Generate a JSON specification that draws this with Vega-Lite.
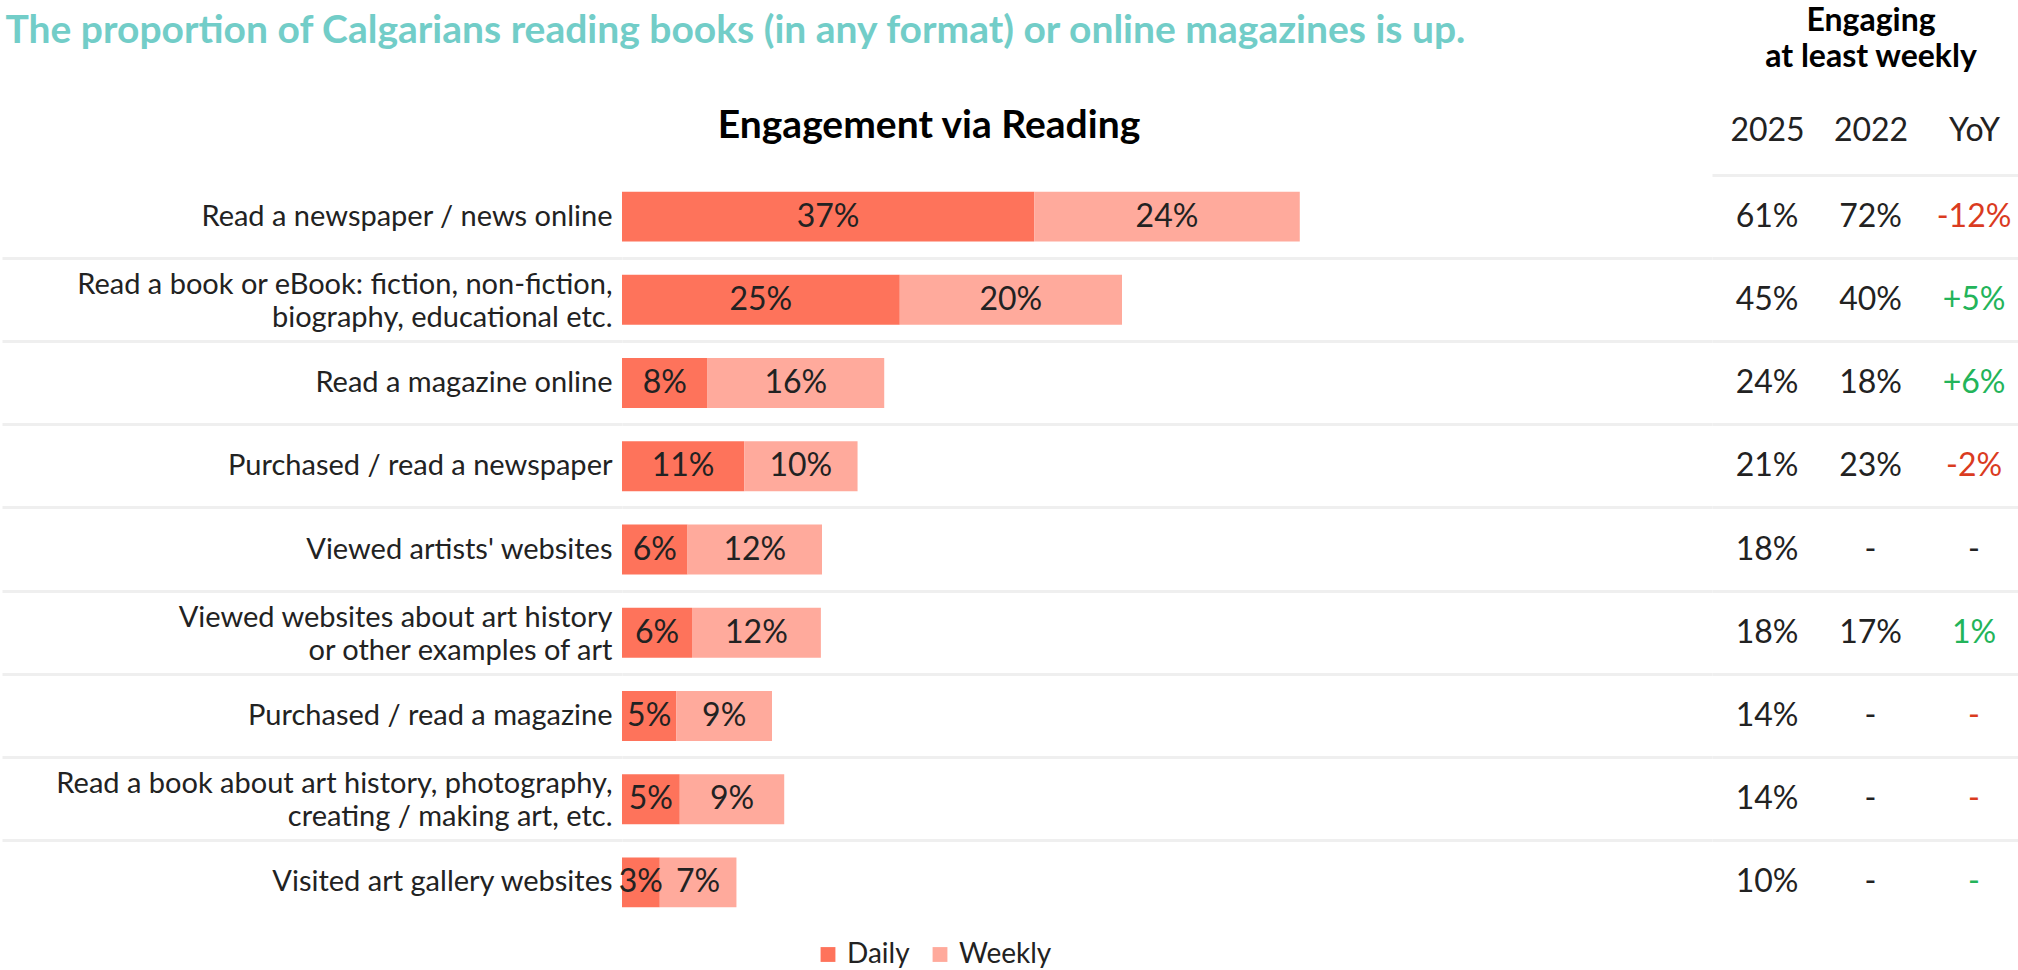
{
  "$schema": "https://vega.github.io/schema/vega-lite/v6.json",
  "padding": {"top": 5, "left": 0, "right": 0, "bottom": 0},
  "background": "white",
  "config": {
    "font": "Lato",
    "view": {"stroke": null},
    "title": {"font": "Lato"},
    "axis": {"labelFont": "Lato", "titleFont": "Lato"},
    "legend": {"labelFont": "Lato"}
  },
  "title": {
    "text": "The proportion of Calgarians reading books (in any format) or online magazines is up.",
    "anchor": "start",
    "fontSize": 39,
    "fontWeight": "bold",
    "color": "#72CDC8",
    "offset": -46,
    "dx": 5
  },
  "datasets": {
    "bars": [
      {"activity": "Read a newspaper / news online", "frequency": "Daily", "share": 0.371},
      {"activity": "Read a newspaper / news online", "frequency": "Weekly", "share": 0.239},
      {"activity": "Read a book or eBook: fiction, non-fiction,\nbiography, educational etc.", "frequency": "Daily", "share": 0.250},
      {"activity": "Read a book or eBook: fiction, non-fiction,\nbiography, educational etc.", "frequency": "Weekly", "share": 0.200},
      {"activity": "Read a magazine online", "frequency": "Daily", "share": 0.077},
      {"activity": "Read a magazine online", "frequency": "Weekly", "share": 0.159},
      {"activity": "Purchased / read a newspaper", "frequency": "Daily", "share": 0.110},
      {"activity": "Purchased / read a newspaper", "frequency": "Weekly", "share": 0.102},
      {"activity": "Viewed artists' websites", "frequency": "Daily", "share": 0.059},
      {"activity": "Viewed artists' websites", "frequency": "Weekly", "share": 0.121},
      {"activity": "Viewed websites about art history\nor other examples of art", "frequency": "Daily", "share": 0.063},
      {"activity": "Viewed websites about art history\nor other examples of art", "frequency": "Weekly", "share": 0.116},
      {"activity": "Purchased / read a magazine", "frequency": "Daily", "share": 0.049},
      {"activity": "Purchased / read a magazine", "frequency": "Weekly", "share": 0.086},
      {"activity": "Read a book about art history, photography,\ncreating / making art, etc.", "frequency": "Daily", "share": 0.052},
      {"activity": "Read a book about art history, photography,\ncreating / making art, etc.", "frequency": "Weekly", "share": 0.094},
      {"activity": "Visited art gallery websites", "frequency": "Daily", "share": 0.034},
      {"activity": "Visited art gallery websites", "frequency": "Weekly", "share": 0.069}
    ],
    "table": [
      {"activity": "Read a newspaper / news online", "column": "2025", "value": "61%", "trend": "neutral"},
      {"activity": "Read a newspaper / news online", "column": "2022", "value": "72%", "trend": "neutral"},
      {"activity": "Read a newspaper / news online", "column": "YoY", "value": "-12%", "trend": "down"},
      {"activity": "Read a book or eBook: fiction, non-fiction,\nbiography, educational etc.", "column": "2025", "value": "45%", "trend": "neutral"},
      {"activity": "Read a book or eBook: fiction, non-fiction,\nbiography, educational etc.", "column": "2022", "value": "40%", "trend": "neutral"},
      {"activity": "Read a book or eBook: fiction, non-fiction,\nbiography, educational etc.", "column": "YoY", "value": "+5%", "trend": "up"},
      {"activity": "Read a magazine online", "column": "2025", "value": "24%", "trend": "neutral"},
      {"activity": "Read a magazine online", "column": "2022", "value": "18%", "trend": "neutral"},
      {"activity": "Read a magazine online", "column": "YoY", "value": "+6%", "trend": "up"},
      {"activity": "Purchased / read a newspaper", "column": "2025", "value": "21%", "trend": "neutral"},
      {"activity": "Purchased / read a newspaper", "column": "2022", "value": "23%", "trend": "neutral"},
      {"activity": "Purchased / read a newspaper", "column": "YoY", "value": "-2%", "trend": "down"},
      {"activity": "Viewed artists' websites", "column": "2025", "value": "18%", "trend": "neutral"},
      {"activity": "Viewed artists' websites", "column": "2022", "value": "-", "trend": "neutral"},
      {"activity": "Viewed artists' websites", "column": "YoY", "value": "-", "trend": "neutral"},
      {"activity": "Viewed websites about art history\nor other examples of art", "column": "2025", "value": "18%", "trend": "neutral"},
      {"activity": "Viewed websites about art history\nor other examples of art", "column": "2022", "value": "17%", "trend": "neutral"},
      {"activity": "Viewed websites about art history\nor other examples of art", "column": "YoY", "value": "1%", "trend": "up"},
      {"activity": "Purchased / read a magazine", "column": "2025", "value": "14%", "trend": "neutral"},
      {"activity": "Purchased / read a magazine", "column": "2022", "value": "-", "trend": "neutral"},
      {"activity": "Purchased / read a magazine", "column": "YoY", "value": "-", "trend": "down"},
      {"activity": "Read a book about art history, photography,\ncreating / making art, etc.", "column": "2025", "value": "14%", "trend": "neutral"},
      {"activity": "Read a book about art history, photography,\ncreating / making art, etc.", "column": "2022", "value": "-", "trend": "neutral"},
      {"activity": "Read a book about art history, photography,\ncreating / making art, etc.", "column": "YoY", "value": "-", "trend": "down"},
      {"activity": "Visited art gallery websites", "column": "2025", "value": "10%", "trend": "neutral"},
      {"activity": "Visited art gallery websites", "column": "2022", "value": "-", "trend": "neutral"},
      {"activity": "Visited art gallery websites", "column": "YoY", "value": "-", "trend": "up"}
    ]
  },
  "spacing": 0,
  "resolve": {"scale": {"color": "independent"}},
  "hconcat": [
    {
      "width": 1090,
      "height": 749,
      "data": {"name": "bars"},
      "title": {
        "text": "Engagement via Reading",
        "fontSize": 39,
        "fontWeight": "bold",
        "color": "#000000",
        "anchor": "middle",
        "dx": -238,
        "offset": 29.5
      },
      "encoding": {
        "y": {
          "field": "activity",
          "type": "nominal",
          "sort": null,
          "scale": {"type": "band", "paddingInner": 0, "paddingOuter": 0},
          "axis": {
            "title": null,
            "domain": false,
            "bandPosition": 0,
            "ticks": true,
            "tickSize": 620,
            "tickColor": "#EFEFEF",
            "tickWidth": 3,
            "tickOpacity": {"condition": {"test": "datum.value === 'Read a newspaper / news online'", "value": 0}, "value": 1},
            "grid": true,
            "gridColor": "#EFEFEF",
            "gridWidth": 3,
            "gridOpacity": {"condition": {"test": "datum.value === 'Read a newspaper / news online'", "value": 0}, "value": 1},
            "labelFontSize": 29,
            "labelColor": "#222222",
            "labelPadding": -610,
            "labelLineHeight": 33,
            "labelLimit": 0,
            "labelOffset": {"condition": {"test": "indexof(datum.value, '\\n') >= 0", "value": -15}, "value": 0},
            "labelExpr": "split(datum.label, '\\n')",
            "minExtent": 620,
            "maxExtent": 620
          }
        }
      },
      "layer": [
        {
          "mark": {"type": "bar", "height": {"band": 0.6}},
          "encoding": {
            "x": {
              "field": "share",
              "type": "quantitative",
              "stack": "zero",
              "scale": {"domain": [0, 0.981], "nice": false, "zero": true},
              "axis": null
            },
            "order": {"field": "frequency", "type": "nominal", "sort": "ascending"},
            "color": {
              "field": "frequency",
              "type": "nominal",
              "scale": {"domain": ["Daily", "Weekly"], "range": ["#FE735B", "#FFAA9C"]},
              "legend": {
                "orient": "none",
                "legendX": 192,
                "legendY": 765.5,
                "direction": "horizontal",
                "title": null,
                "symbolType": "square",
                "symbolSize": 220,
                "symbolStrokeWidth": 0,
                "labelFontSize": 28,
                "labelColor": "#222222",
                "labelOffset": 5,
                "columnPadding": 16,
                "padding": 0
              }
            }
          }
        },
        {
          "mark": {"type": "text", "fontSize": 32, "color": "#222222"},
          "encoding": {
            "x": {"field": "share", "type": "quantitative", "stack": "zero", "bandPosition": 0.5},
            "detail": {"field": "frequency", "type": "nominal"},
            "order": {"field": "frequency", "type": "nominal", "sort": "ascending"},
            "text": {"field": "share", "type": "quantitative", "format": ".0%"}
          }
        }
      ]
    },
    {
      "width": 308,
      "height": 749,
      "data": {"name": "table"},
      "title": {
        "text": ["Engaging", "at least weekly"],
        "fontSize": 32,
        "fontWeight": "bold",
        "color": "#000000",
        "lineHeight": 36,
        "anchor": "middle",
        "dx": 5,
        "offset": 40
      },
      "mark": {"type": "text", "fontSize": 32},
      "encoding": {
        "x": {
          "field": "column",
          "type": "nominal",
          "sort": ["2025", "2022", "YoY"],
          "scale": {"type": "point", "padding": 0.488, "align": 0.545},
          "axis": {
            "orient": "top",
            "title": null,
            "domain": false,
            "ticks": false,
            "grid": false,
            "labelAngle": 0,
            "labelFontSize": 32,
            "labelColor": "#222222",
            "labelPadding": 28
          }
        },
        "y": {
          "field": "activity",
          "type": "nominal",
          "sort": null,
          "scale": {"type": "band", "paddingInner": 0, "paddingOuter": 0},
          "axis": {
            "title": null,
            "labels": false,
            "ticks": false,
            "domain": false,
            "grid": true,
            "bandPosition": 0,
            "gridColor": "#EFEFEF",
            "gridWidth": 3,
            "minExtent": 0,
            "maxExtent": 0
          }
        },
        "text": {"field": "value", "type": "nominal"},
        "color": {
          "field": "trend",
          "type": "nominal",
          "scale": {"domain": ["neutral", "down", "up"], "range": ["#222222", "#DA3B1F", "#23B45A"]},
          "legend": null
        }
      }
    }
  ]
}
